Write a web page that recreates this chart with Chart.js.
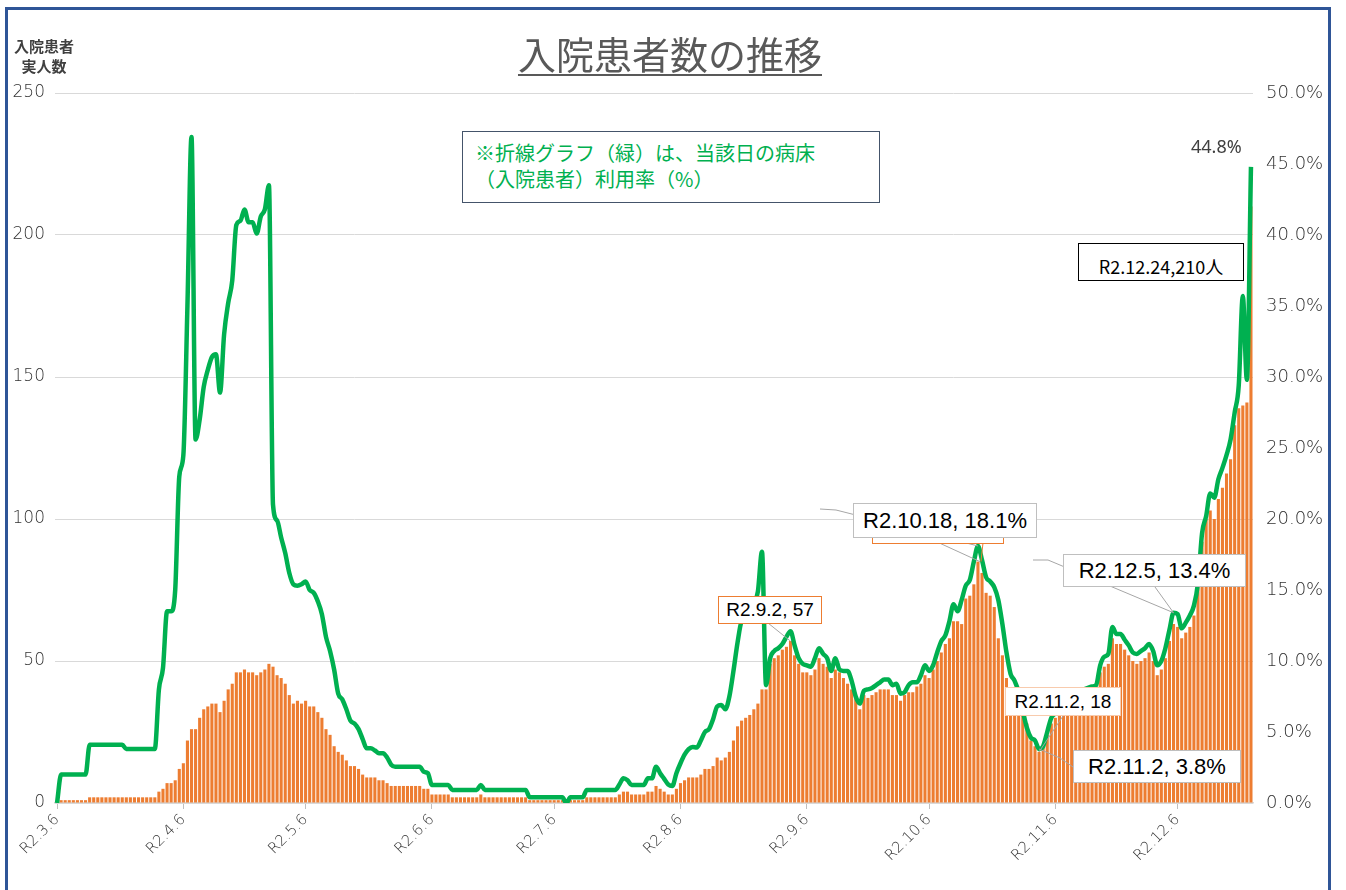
<!DOCTYPE html>
<html>
<head>
<meta charset="utf-8">
<script src="https://cdn.jsdelivr.net/npm/chart.js@4.4.1/dist/chart.umd.min.js"></script>
<style>
html,body{margin:0;padding:0;background:#fff;}
#wrap{position:relative;width:1346px;height:890px;overflow:hidden;background:#fff;}
#frame{position:absolute;left:5px;top:7px;width:1326px;height:900px;border:3px solid #2F5597;box-sizing:border-box;}
#c{position:absolute;left:0;top:0;}
.t{position:absolute;white-space:nowrap;}
.box{position:absolute;background:#fff;box-sizing:border-box;white-space:nowrap;text-align:center;color:#000;font-family:'Liberation Sans',Arial,sans-serif;}
</style>
</head>
<body>
<div id="wrap">
<canvas id="c" width="1346" height="890"></canvas>
<div id="frame"></div>
<div class="t" style="left:470px;top:31px;width:400px;text-align:center;font-family:'Noto Sans CJK JP',sans-serif;font-size:38px;line-height:44px;color:#595959;text-decoration:underline;text-decoration-thickness:2px;text-underline-offset:5px;">入院患者数の推移</div>
<div class="t" style="left:12px;top:36px;width:64px;text-align:center;font-family:'Noto Sans CJK JP',sans-serif;font-size:15px;font-weight:bold;line-height:20px;color:#404040;">入院患者<br>実人数</div>
<div class="box" style="left:462px;top:131px;width:418px;height:72px;border:1px solid #44546A;text-align:left;padding:8px 0 0 12px;font-family:'Noto Sans CJK JP',sans-serif;font-size:20px;line-height:26px;color:#00B050;">※折線グラフ（緑）は、当該日の病床<br>（入院患者）利用率（%）</div>
<div class="t" style="left:1191px;top:134px;font-family:'Noto Sans',sans-serif;font-size:18px;color:#404040;">44.8%</div>
<div class="box" style="left:1078px;top:243px;width:166px;height:38px;border:1px solid #000;font-family:'Noto Sans CJK JP',sans-serif;font-size:18px;line-height:38px;padding-top:3px;">R2.12.24,210人</div>
<div class="box" style="left:718px;top:596px;width:104px;height:28px;border:1px solid #ED7D31;font-size:19px;line-height:26px;">R2.9.2, 57</div>
<div class="box" style="left:872px;top:515px;width:132px;height:29px;border:1px solid #ED7D31;"></div>
<div class="box" style="left:853px;top:503px;width:184px;height:35px;border:1px solid #BFBFBF;font-size:22px;line-height:33px;">R2.10.18, 18.1%</div>
<div class="box" style="left:1063px;top:554px;width:183px;height:33px;border:1px solid #BFBFBF;font-size:22px;line-height:31px;">R2.12.5, 13.4%</div>
<div class="box" style="left:1005px;top:687px;width:116px;height:29px;border:1px solid #F8CBAD;font-size:19px;line-height:27px;">R2.11.2, 18</div>
<div class="box" style="left:1073px;top:750px;width:168px;height:33px;border:1px solid #BFBFBF;font-size:22px;line-height:31px;">R2.11.2, 3.8%</div>
</div>
<script>
// ---- data ----
const startDate = [2020, 3, 6];   // R2.3.6
const dayCount = 294;             // R2.3.6 .. R2.12.24
const tickLabels = ['R2.3.6','R2.4.6','R2.5.6','R2.6.6','R2.7.6','R2.8.6','R2.9.6','R2.10.6','R2.11.6','R2.12.6'];
const yTicksLeft = [0, 50, 100, 150, 200, 250];
const yTicksRight = [0, 5, 10, 15, 20, 25, 30, 35, 40, 45, 50];

// 入院患者実人数 (bars)
const patients = [
 0,
 1,1,1,1,1,1,1,
 2,2,2,2,2,2,2,2,2,2,2,2,2,2,2,2,2,
 4,5,7,7,8,12,14,22,26,26,
 30,33,34,35,35,32,36,40,42,46,
 46,47,46,46,45,46,47,49,48,45,
 44,42,38,35,36,35,36,34,34,32,
 30,26,24,20,18,
 17,15,13,13,12,10,9,9,9,8,8,7,
 6,6,6,6,6,6,6,6,
 5,5,
 3,3,3,3,3,
 2,2,2,2,2,2,2,
 3,
 2,2,2,2,2,2,2,2,2,2,2,
 1,1,1,1,1,1,1,1,1,
 0,
 1,1,1,1,
 2,2,2,2,2,2,2,2,
 3,4,4,3,3,3,3,4,4,6,5,4,3,3,5,
 7,8,9,9,9,10,12,12,13,16,15,16,18,22,27,29,30,31,33,35,40,40,49,51,52,54,55,57,
 52,49,46,46,45,47,51,49,48,44,
 47,46,44,42,40,37,33,38,37,38,
 39,40,40,40,38,38,36,38,39,39,
 41,42,45,44,47,50,53,56,58,64,
 64,63,72,73,77,85,
 81,74,73,69,58,52,44,40,35,32,31,28,22,20,18,
 20,24,28,30,31,32,33,35,36,37,
 38,38,39,39,46,48,49,58,56,56,
 54,52,50,49,50,51,53,50,45,47,
 51,57,63,62,58,60,62,66,76,92,
 100,103,100,107,111,116,121,133,139,140,
 141,210
];

// 病床（入院患者）利用率 % (line)
const occupancy = [
 0,
 2.0,2.0,2.0,2.0,2.0,2.0,2.0,
 4.1,4.1,4.1,4.1,4.1,4.1,4.1,4.1,4.1,
 3.8,3.8,3.8,3.8,3.8,3.8,3.8,3.8,
 8.0,9.5,13.5,13.5,15.0,23.0,24.5,35.0,46.9,25.6,
 27.0,29.3,30.5,31.4,31.6,28.9,33.0,35.2,36.8,40.7,
 41.0,41.8,40.9,40.9,40.1,41.3,41.8,43.5,21.0,19.9,
 18.7,17.6,16.2,15.4,15.3,15.4,15.6,15.0,14.8,14.2,
 13.3,11.7,10.7,9.4,7.7,
 7.3,6.6,5.8,5.6,5.2,4.5,3.85,3.85,3.7,3.5,3.5,3.2,2.7,
 2.56,2.56,2.56,2.56,2.56,2.56,2.56,
 2.2,2.1,
 1.27,1.27,1.27,1.27,1.27,
 0.92,0.92,0.92,0.92,0.92,0.92,0.92,
 1.27,
 0.92,0.92,0.92,0.92,0.92,0.92,0.92,0.92,0.92,0.92,0.92,
 0.4,0.4,0.4,0.4,0.4,0.4,0.4,0.4,0.4,
 0,
 0.4,0.4,0.4,0.4,
 0.92,0.92,0.92,0.92,0.92,0.92,0.92,0.92,
 1.3,1.74,1.6,1.27,1.27,1.27,1.27,1.74,1.74,2.56,2.1,1.7,1.3,1.2,2.1,
 2.8,3.4,3.8,3.95,3.9,4.4,5.0,5.2,5.9,6.8,
 6.9,6.6,7.5,9.3,11.3,12.8,13.0,13.5,14.0,14.9,
 17.7,8.3,10.2,10.7,10.9,11.2,11.7,12.1,
 11.1,10.2,9.8,9.7,9.6,10.2,10.9,10.5,10.2,9.3,
 10.2,9.4,9.3,9.3,8.6,7.5,7.0,7.9,8.0,8.1,
 8.3,8.5,8.7,8.7,8.3,8.4,7.7,7.8,8.3,8.5,
 8.5,9.0,9.7,9.3,9.7,10.6,11.4,11.8,12.8,14.0,
 13.5,14.3,15.3,15.7,17.0,18.1,
 17.1,15.9,15.6,15.2,14.3,12.6,10.6,9.1,8.6,7.8,6.5,5.3,4.6,4.4,3.8,
 4.0,5.0,6.0,6.3,6.5,6.8,7.1,7.4,7.7,7.9,
 8.0,8.1,8.2,8.3,9.7,10.3,10.5,12.4,11.9,11.9,
 11.5,11.1,10.6,10.5,10.7,10.9,11.2,10.7,9.7,10.0,
 10.9,12.2,13.4,13.3,12.3,12.7,13.2,13.9,15.5,19.0,
 20.2,21.8,21.5,22.8,23.6,24.5,25.6,27.5,29.4,35.7,
 29.8,44.8
];

// category labels (one per day)
const dates = [];
{
  const d = new Date(startDate[0], startDate[1]-1, startDate[2]);
  for (let k = 0; k < dayCount; k++) {
    dates.push('R2.' + (d.getMonth()+1) + '.' + d.getDate());
    d.setDate(d.getDate()+1);
  }
}
const tickSet = new Set(tickLabels);

// leader lines for the data labels, anchored through the scales
const leaders = {
  id: 'leaders',
  afterDatasetsDraw(chart) {
    const {ctx, scales} = chart;
    const X = i => scales.x.getPixelForValue(i);
    const Y = v => scales.y.getPixelForValue(v);
    const Y1 = v => scales.y1.getPixelForValue(v);
    const iSep2 = dates.indexOf('R2.9.2');
    const iOct18 = dates.indexOf('R2.10.18');
    const iNov2 = dates.indexOf('R2.11.2');
    const iDec5 = dates.indexOf('R2.12.5');
    ctx.save();
    ctx.lineWidth = 1;
    const seg = (color, pts) => {
      ctx.strokeStyle = color;
      ctx.beginPath();
      ctx.moveTo(pts[0][0], pts[0][1]);
      for (let k = 1; k < pts.length; k++) ctx.lineTo(pts[k][0], pts[k][1]);
      ctx.stroke();
    };
    seg('#A6A6A6', [[768, 623], [X(iSep2), Y(patients[iSep2])]]);
    seg('#A6A6A6', [[820, 509], [836, 510], [X(iOct18), Y1(occupancy[iOct18])]]);
    seg('#A6A6A6', [[935, 541], [X(iOct18)+2, Y(patients[iOct18])]]);
    seg('#ED7D31', [[983, 543], [X(iOct18)+3, Y(patients[iOct18])]]);
    seg('#A6A6A6', [[1033, 560], [1048, 560], [X(iDec5), Y1(occupancy[iDec5])]]);
    seg('#A6A6A6', [[1155, 587], [X(iDec5), Y1(occupancy[iDec5])]]);
    seg('#A6A6A6', [[1063, 716], [X(iNov2), Y(patients[iNov2])]]);
    seg('#A6A6A6', [[X(iNov2), Y1(occupancy[iNov2])], [1060, 758], [1073, 767]]);
    ctx.restore();
  }
};

Chart.defaults.font.family = "'DejaVu Sans', sans-serif";

new Chart(document.getElementById('c'), {
  type: 'bar',
  data: {
    labels: dates,
    datasets: [
      {
        type: 'line',
        label: '病床利用率',
        data: occupancy,
        yAxisID: 'y1',
        borderColor: '#00B050',
        borderWidth: 4.5,
        pointRadius: 0,
        cubicInterpolationMode: 'monotone',
        fill: false,
        order: 1
      },
      {
        type: 'bar',
        label: '入院患者実人数',
        data: patients,
        yAxisID: 'y',
        backgroundColor: '#ED7D31',
        barPercentage: 0.76,
        categoryPercentage: 1.0,
        order: 2
      }
    ]
  },
  options: {
    responsive: false,
    animation: false,
    layout: { padding: { top: 93, left: 0, right: 0, bottom: 0 } },
    plugins: { legend: { display: false }, tooltip: { enabled: false } },
    scales: {
      x: {
        offset: true,
        grid: {
          display: true,
          offset: false,
          drawOnChartArea: false,
          tickLength: 6,
          color: c => tickSet.has(dates[c.index]) ? '#BFBFBF' : 'rgba(0,0,0,0)',
          tickColor: c => tickSet.has(dates[c.index]) ? '#BFBFBF' : 'rgba(0,0,0,0)'
        },
        border: { display: true, color: '#D9D9D9', width: 1.5 },
        ticks: {
          autoSkip: false,
          maxRotation: 45,
          minRotation: 45,
          padding: 2,
          color: '#333333',
          font: { size: 15, weight: 300 },
          callback: (v, i) => tickSet.has(dates[i]) ? dates[i] : ''
        },
        afterFit: s => { s.height = 87; }
      },
      y: {
        position: 'left',
        min: 0, max: 250,
        afterBuildTicks: s => { s.ticks = yTicksLeft.map(v => ({ value: v })); },
        ticks: { color: '#333333', font: { size: 17, weight: 300 }, padding: 10 },
        grid: { color: '#D9D9D9', drawTicks: false, lineWidth: 1 },
        border: { display: false },
        afterFit: s => { s.width = 55; }
      },
      y1: {
        position: 'right',
        min: 0, max: 50,
        afterBuildTicks: s => { s.ticks = yTicksRight.map(v => ({ value: v })); },
        ticks: { color: '#333333', font: { size: 18, weight: 300 }, padding: 5, callback: v => v.toFixed(1) + '%' },
        grid: { display: false },
        border: { display: false },
        afterFit: s => { s.width = 93; }
      }
    }
  },
  plugins: [leaders]
});
</script>
</body>
</html>
